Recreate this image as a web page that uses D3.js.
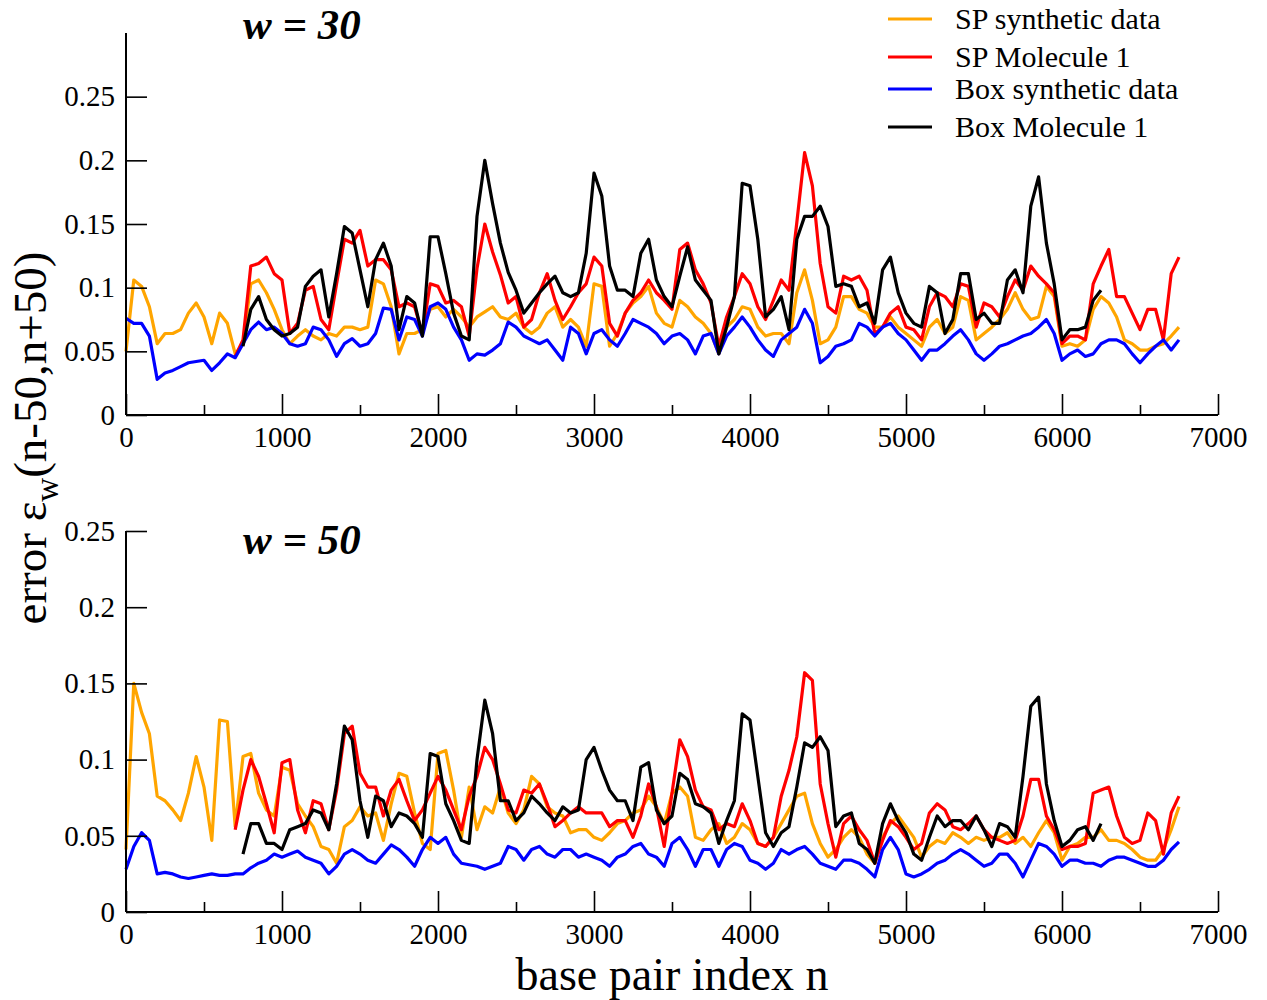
<!DOCTYPE html>
<html>
<head>
<meta charset="utf-8">
<script src="https://cdn.jsdelivr.net/npm/d3@7"></script>
<style>
  html, body { margin: 0; padding: 0; background: #fff; }
  svg { display: block; }
  text { font-family: "Liberation Serif", "Times New Roman", serif; fill: #000; }
</style>
</head>
<body>
<svg id="chart" width="1267" height="1000"></svg>
<script>
// Window error, sampled every 50 base pairs (index i -> n = 50*i)
const sampleStep = 50;
const basePairs = d3.range(0, 6751, sampleStep);

const seriesNames = ["SP synthetic data", "SP Molecule 1", "Box synthetic data", "Box Molecule 1"];
const seriesColors = ["#ffa500", "#ff0000", "#0000ff", "#000000"];

const xTicksMajor = [0, 1000, 2000, 3000, 4000, 5000, 6000, 7000];
const xTicksMinor = [500, 1500, 2500, 3500, 4500, 5500, 6500];
const yTicks = [0, 0.05, 0.1, 0.15, 0.2, 0.25];
const yTickLabels = ["0", "0.05", "0.1", "0.15", "0.2", "0.25"];

const _ = null;
const pad15 = [_,_,_,_,_,_,_,_,_,_,_,_,_,_,_];

// ---- w = 30 ----
const spSynth30 = [
  0.050,0.106,0.101,0.085,0.056,0.064,0.064,0.067,0.080,0.088,0.077,0.056,0.080,0.072,0.048,0.056,0.103,0.106,0.096,0.083,
  0.067,0.056,0.062,0.067,0.062,0.059,0.064,0.062,0.069,0.069,0.067,0.069,0.106,0.103,0.085,0.048,0.064,0.064,0.067,0.083,
  0.085,0.077,0.083,0.077,0.069,0.077,0.081,
  0.085,0.077,0.075,0.080,0.069,0.064,0.069,0.080,0.085,0.069,0.075,0.069,0.054,0.103,0.101,0.054,0.064,0.080,0.088,0.093,
  0.101,0.080,0.072,0.069,0.090,0.085,0.077,0.072,0.064,0.048,0.069,0.075,0.085,0.083,0.069,0.062,0.064,0.064,0.056,0.096,
  0.114,0.090,0.056,0.059,0.069,0.093,0.093,
  0.083,0.080,0.069,0.069,0.077,0.069,0.064,0.059,0.054,0.069,0.075,0.064,0.069,0.093,0.090,0.059,0.064,0.069,0.075,0.083,
  0.096,0.083,0.075,0.077,0.101,0.093,0.054,0.056,0.054,0.059,0.083,0.093,0.088,0.077,0.059,0.056,0.051,0.051,0.054,0.056,
  0.062,0.069
];
const spMol30 = [
  _,_,_,_,_,_,_,_,_,_,_,_,_,_,
  0.046,0.059,0.117,0.119,0.124,0.111,0.106,0.064,0.072,0.098,0.101,0.075,0.067,0.103,0.138,0.135,0.145,0.117,0.122,0.122,
  0.114,0.085,0.088,0.085,0.064,0.103,0.101,0.088,0.090,0.085,0.062,0.115,0.150,
  0.128,0.110,0.088,0.093,0.069,0.075,0.096,0.111,0.090,0.075,0.085,0.096,0.103,0.124,0.117,0.072,0.062,0.080,0.090,0.096,
  0.106,0.096,0.090,0.083,0.130,0.135,0.114,0.103,0.088,0.054,0.077,0.093,0.111,0.103,0.085,0.075,0.090,0.106,0.098,0.151,
  0.206,0.180,0.119,0.085,0.080,0.109,0.106,
  0.109,0.098,0.064,0.069,0.080,0.085,0.069,0.067,0.059,0.085,0.096,0.093,0.085,0.103,0.101,0.069,0.088,0.085,0.077,0.093,
  0.106,0.098,0.117,0.109,0.103,0.096,0.056,0.062,0.062,0.059,0.103,0.117,0.130,0.093,0.093,0.080,0.067,0.083,0.083,0.059,
  0.111,0.124
];
const boxSynth30 = [
  0.076,0.072,0.072,0.062,0.028,0.033,0.035,0.038,0.041,0.042,0.043,0.035,0.041,0.048,0.045,0.056,0.067,0.073,0.067,0.069,
  0.064,0.056,0.054,0.056,0.069,0.067,0.059,0.046,0.056,0.060,0.054,0.056,0.064,0.084,0.083,0.059,0.077,0.075,0.062,0.085,
  0.088,0.083,0.069,0.059,0.043,0.048,0.047,
  0.051,0.056,0.073,0.069,0.062,0.059,0.056,0.059,0.051,0.043,0.069,0.064,0.048,0.064,0.067,0.059,0.054,0.064,0.075,0.072,
  0.069,0.064,0.056,0.062,0.064,0.059,0.048,0.062,0.064,0.048,0.062,0.069,0.077,0.069,0.059,0.051,0.046,0.059,0.064,0.069,
  0.083,0.072,0.041,0.046,0.054,0.056,0.059,
  0.072,0.069,0.062,0.069,0.072,0.064,0.059,0.051,0.043,0.051,0.051,0.056,0.062,0.067,0.059,0.048,0.043,0.048,0.054,0.056,
  0.059,0.062,0.064,0.069,0.075,0.064,0.043,0.048,0.051,0.046,0.048,0.056,0.059,0.059,0.056,0.048,0.041,0.048,0.054,0.059,
  0.051,0.059
];
const boxMol30 = [
  ...pad15,
  0.054,0.083,0.093,0.075,0.067,0.062,0.064,0.069,0.101,0.109,0.114,0.077,0.111,0.148,0.143,0.114,0.085,0.122,0.135,0.117,
  0.067,0.093,0.088,0.062,0.140,0.140,0.111,0.080,0.062,0.059,0.156,
  0.200,0.166,0.135,0.112,0.098,0.080,0.088,0.096,0.103,0.109,0.096,0.093,0.096,0.127,0.190,0.172,0.117,0.098,0.098,0.093,
  0.127,0.138,0.106,0.093,0.085,0.109,0.132,0.106,0.098,0.090,0.048,0.069,0.093,0.182,0.180,0.138,0.077,0.083,0.093,0.067,
  0.138,0.156,0.156,0.164,0.148,0.101,0.103,0.101,
  0.085,0.088,0.072,0.114,0.124,0.096,0.080,0.072,0.069,0.101,0.096,0.064,0.075,0.111,0.111,0.075,0.080,0.072,0.072,0.106,
  0.114,0.096,0.164,0.187,0.135,0.103,0.059,0.067,0.067,0.069,0.090,0.098
];

// ---- w = 50 ----
const spSynth50 = [
  0.041,0.150,0.131,0.117,0.076,0.073,0.067,0.060,0.078,0.102,0.082,0.047,0.126,0.125,0.056,0.102,0.104,0.078,0.067,0.063,
  0.095,0.093,0.071,0.063,0.056,0.043,0.041,0.032,0.056,0.060,0.069,0.063,0.065,0.047,0.071,0.091,0.089,0.065,0.045,0.041,
  0.104,0.106,0.080,0.049,0.082,0.054,0.069,
  0.065,0.082,0.065,0.058,0.067,0.089,0.084,0.069,0.065,0.063,0.052,0.054,0.054,0.049,0.047,0.052,0.058,0.060,0.065,0.067,
  0.076,0.069,0.058,0.078,0.082,0.076,0.049,0.047,0.054,0.058,0.045,0.049,0.058,0.054,0.045,0.043,0.049,0.058,0.067,0.076,
  0.078,0.058,0.045,0.036,0.041,0.049,0.054,
  0.049,0.038,0.032,0.049,0.058,0.063,0.056,0.049,0.036,0.043,0.047,0.045,0.052,0.049,0.045,0.049,0.047,0.049,0.049,0.052,
  0.045,0.049,0.043,0.052,0.060,0.052,0.034,0.043,0.045,0.049,0.049,0.054,0.047,0.047,0.045,0.041,0.036,0.034,0.034,0.041,
  0.054,0.069
];
const spMol50 = [
  _,_,_,_,_,_,_,_,_,_,_,_,_,_,
  0.054,0.080,0.100,0.089,0.071,0.052,0.098,0.100,0.067,0.052,0.073,0.071,0.054,0.080,0.117,0.122,0.091,0.082,0.082,0.063,
  0.080,0.087,0.073,0.060,0.067,0.078,0.089,0.080,0.067,0.054,0.076,0.089,0.108,
  0.100,0.084,0.067,0.065,0.080,0.078,0.084,0.071,0.056,0.060,0.065,0.069,0.065,0.065,0.065,0.056,0.060,0.060,0.049,0.063,
  0.084,0.069,0.043,0.078,0.113,0.102,0.080,0.069,0.067,0.054,0.058,0.056,0.071,0.060,0.045,0.043,0.049,0.076,0.093,0.115,
  0.157,0.152,0.084,0.058,0.036,0.058,0.063,
  0.054,0.047,0.032,0.047,0.060,0.056,0.049,0.041,0.045,0.065,0.071,0.067,0.056,0.054,0.058,0.063,0.054,0.049,0.047,0.045,
  0.047,0.063,0.087,0.087,0.063,0.054,0.041,0.043,0.043,0.045,0.078,0.080,0.082,0.063,0.049,0.045,0.047,0.065,0.060,0.038,
  0.065,0.076
];
const boxSynth50 = [
  0.028,0.043,0.052,0.047,0.025,0.026,0.025,0.023,0.022,0.023,0.024,0.025,0.024,0.024,0.025,0.025,0.029,0.032,0.034,0.038,
  0.036,0.038,0.040,0.036,0.034,0.032,0.025,0.030,0.038,0.041,0.038,0.034,0.032,0.038,0.044,0.041,0.036,0.030,0.041,0.049,
  0.045,0.049,0.038,0.032,0.031,0.030,0.028,
  0.030,0.032,0.043,0.041,0.034,0.041,0.043,0.038,0.036,0.041,0.041,0.036,0.038,0.036,0.034,0.030,0.036,0.038,0.043,0.045,
  0.038,0.036,0.030,0.045,0.049,0.041,0.030,0.041,0.041,0.030,0.041,0.045,0.043,0.034,0.032,0.028,0.032,0.041,0.038,0.041,
  0.043,0.038,0.032,0.030,0.028,0.034,0.034,
  0.032,0.028,0.023,0.041,0.049,0.041,0.025,0.023,0.025,0.028,0.032,0.034,0.038,0.041,0.038,0.034,0.030,0.032,0.038,0.038,
  0.032,0.023,0.034,0.045,0.043,0.038,0.030,0.034,0.034,0.032,0.032,0.030,0.034,0.036,0.036,0.034,0.032,0.030,0.030,0.034,
  0.041,0.046
];
const boxMol50 = [
  ...pad15,
  0.038,0.058,0.058,0.045,0.045,0.041,0.054,0.056,0.058,0.067,0.065,0.054,0.084,0.122,0.113,0.073,0.049,0.076,0.073,0.056,
  0.065,0.063,0.058,0.049,0.104,0.102,0.071,0.060,0.047,0.045,0.100,0.139,
  0.117,0.073,0.073,0.060,0.065,0.076,0.071,0.065,0.060,0.069,0.065,0.067,0.100,0.108,0.093,0.080,0.073,0.073,0.060,0.095,
  0.098,0.067,0.058,0.063,0.091,0.087,0.071,0.069,0.065,0.045,0.060,0.073,0.130,0.126,0.089,0.052,0.043,0.052,0.056,0.082,
  0.111,0.108,0.115,0.106,0.056,0.063,0.065,
  0.045,0.041,0.032,0.058,0.071,0.060,0.052,0.038,0.034,0.049,0.063,0.056,0.060,0.060,0.054,0.063,0.054,0.043,0.058,0.056,
  0.049,0.089,0.135,0.141,0.084,0.060,0.043,0.047,0.054,0.056,0.047,0.058
];

const panels = [
  { title: "w = 30", series: [spSynth30, spMol30, boxSynth30, boxMol30], yMax: 0.3, top: 33, bottom: 415, titleY: 39 },
  { title: "w = 50", series: [spSynth50, spMol50, boxSynth50, boxMol50], yMax: 0.25, top: 531, bottom: 912, titleY: 554 }
];

const svg = d3.select("#chart");
const x = d3.scaleLinear().domain([0, 7000]).range([126, 1218]);
const fontPx = 29;

panels.forEach((p) => {
  const y = d3.scaleLinear().domain([0, p.yMax]).range([p.bottom, p.top]);
  const g = svg.append("g");

  // data lines
  const line = d3.line()
    .defined(d => d.v != null)
    .x(d => x(d.n))
    .y(d => y(d.v));
  p.series.forEach((vals, si) => {
    const pts = basePairs.map((n, i) => ({ n, v: vals[i] === undefined ? null : vals[i] }));
    g.append("path")
      .datum(pts)
      .attr("fill", "none")
      .attr("stroke", seriesColors[si])
      .attr("stroke-width", 3.2)
      .attr("stroke-linejoin", "round")
      .attr("d", line);
  });

  // axes: left and bottom only, ticks pointing inward
  const xAxis = d3.axisBottom(x).tickValues(xTicksMajor).tickSize(-21).tickPadding(33).tickFormat(d3.format("d"));
  const gx = g.append("g").attr("transform", `translate(0,${p.bottom})`).call(xAxis);
  const xMinor = d3.axisBottom(x).tickValues(xTicksMinor).tickSize(-10).tickFormat("");
  const gxm = g.append("g").attr("transform", `translate(0,${p.bottom})`).call(xMinor);
  gxm.select(".domain").remove();

  const yAxis = d3.axisLeft(y).tickValues(yTicks.filter(t => t <= p.yMax + 1e-9))
    .tickSize(-21).tickPadding(33).tickFormat((d, i) => yTickLabels[i]);
  const gy = g.append("g").attr("transform", `translate(${x(0)},0)`).call(yAxis);

  [gx, gxm, gy].forEach(a => {
    a.selectAll(".domain").attr("stroke", "#000").attr("stroke-width", 2);
    a.selectAll(".tick line").attr("stroke", "#000").attr("stroke-width", 1.6);
    a.selectAll("text").style("font-family", "'Liberation Serif', serif").style("font-size", fontPx + "px").attr("fill", "#000");
  });
  gx.select(".domain").attr("d", `M${x(0)},0H${x(7000)}`);
  gy.select(".domain").attr("d", `M0,${p.bottom}V${p.top}`);
  gx.selectAll(".tick text").attr("dy", "0.35em").attr("y", 22);
  gy.selectAll(".tick text").attr("x", -11);

  // panel title
  g.append("text")
    .attr("x", 243).attr("y", p.titleY)
    .style("font-size", "43px").style("font-weight", "bold").style("font-style", "italic")
    .text(p.title);
});

// legend
const legend = svg.append("g");
const legendY = [19, 57, 89, 127];
seriesNames.forEach((name, i) => {
  legend.append("line")
    .attr("x1", 888).attr("x2", 932)
    .attr("y1", legendY[i]).attr("y2", legendY[i])
    .attr("stroke", seriesColors[i]).attr("stroke-width", 3);
  legend.append("text")
    .attr("x", 955).attr("y", legendY[i] + 10)
    .style("font-size", "30px")
    .text(name);
});

// axis titles
svg.append("text")
  .attr("x", 672).attr("y", 990)
  .attr("text-anchor", "middle")
  .style("font-size", "46px")
  .text("base pair index n");

const yLab = svg.append("text")
  .attr("transform", "translate(46,438) rotate(-90)")
  .attr("text-anchor", "middle")
  .style("font-size", "47px");
yLab.append("tspan").text("error  \u03b5");
yLab.append("tspan").attr("dy", 12).style("font-size", "33px").text("w");
yLab.append("tspan").attr("dy", -12).text("(n-50,n+50)");
</script>
</body>
</html>
